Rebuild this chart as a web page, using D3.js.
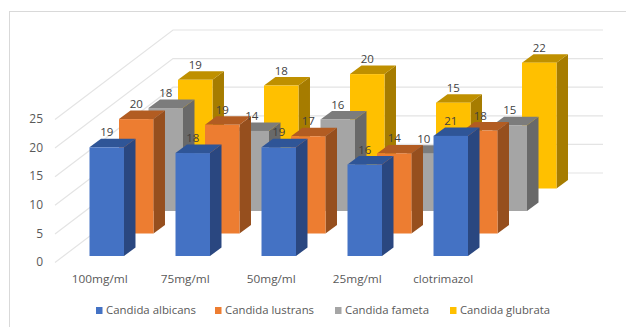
<!DOCTYPE html>
<html><head><meta charset="utf-8">
<style>html,body{margin:0;padding:0;background:#fff;overflow:hidden}svg{display:block}
text{font-family:"Open Sans",sans-serif;fill:#595959}
text.val{fill:#3f3f3f}</style>
<script src="https://cdn.jsdelivr.net/npm/d3@7"></script></head>
<body><svg id="c" width="626" height="327"></svg>
<script>
const categories=["100mg/ml","75mg/ml","50mg/ml","25mg/ml","clotrimazol"];
const seriesNames=["Candida albicans","Candida lustrans","Candida fameta","Candida glubrata"];
const albicans=[19,18,19,16,21];
const lustrans=[20,19,17,14,18];
const fameta=[18,14,16,10,15];
const glubrata=[19,18,20,15,22];
const seriesValues=[albicans,lustrans,fameta,glubrata];
const yTicks=[0,5,10,15,20,25];
const frontColors=["#4472C4","#ED7D31","#A5A5A5","#FFC000"];
const topColors=["#2F5597","#B25C22","#7C7C7C","#BF9000"];
const sideColors=["#2A4780","#964F1E","#696969","#A67C00"];
const legendSwatchX=[96,215,335,450];
const legendWidths=[90,89,84,90];
const categoryWidths=[56,49,49,49,60];
const categoryOffsets=[-7,-7.5,-7.5,-7.5,-7.5];

const svg=d3.select("#c");
const x=d3.scaleBand().domain(categories).range([89.5,468]).paddingInner(0.599).paddingOuter(0);
const y=d3.scaleLinear().domain([0,25]).range([256,113]);
const depthX=d3.scalePoint().domain(seriesNames).range([0,88.5]);
const depthY=d3.scalePoint().domain(seriesNames).range([0,-67.5]);
const sideDx=11.5,sideDy=-8.5;

svg.append("rect").attr("x",9.5).attr("y",11.5).attr("width",640).attr("height",340)
  .attr("fill","#fff").attr("stroke","#d9d9d9").attr("stroke-width",1);

const gridY=d3.scaleLinear().domain([0,25]).range([262.5,119.5]);
const wallDx=118,wallDy=-89.5,wallEnd=603;
const grid=svg.append("g").attr("fill","none").attr("stroke","#e4e4e4").attr("stroke-width",1.2);
yTicks.forEach(t=>{
  const y0=gridY(t);
  grid.append("path").attr("d",`M55,${y0}L${55+wallDx},${y0+wallDy}L${wallEnd},${y0+wallDy}`);
});
svg.append("g").selectAll("text").data(yTicks).join("text")
  .attr("x",43).attr("y",d=>gridY(d)-0.5).attr("dy","0.35em").attr("text-anchor","end")
  .attr("font-size",12).text(d=>d);

const bars=svg.append("g");
const labels=[];
for(let s=seriesNames.length-1;s>=0;s--){
  const name=seriesNames[s];
  const ox=depthX(name),oy=depthY(name);
  categories.forEach((c,i)=>{
    const v=seriesValues[s][i];
    const x0=x(c)+ox,x1=x0+x.bandwidth(),yb=y(0)+oy,yt=y(v)+oy;
    const g=bars.append("g");
    g.append("path").attr("fill",sideColors[s])
      .attr("d",`M${x1},${yt}L${x1+sideDx},${yt+sideDy}L${x1+sideDx},${yb+sideDy}L${x1},${yb}Z`);
    g.append("path").attr("fill",topColors[s])
      .attr("d",`M${x0},${yt}L${x0+sideDx},${yt+sideDy}L${x1+sideDx},${yt+sideDy}L${x1},${yt}Z`);
    g.append("rect").attr("x",x0).attr("y",yt).attr("width",x.bandwidth()).attr("height",yb-yt).attr("fill",frontColors[s]);
    labels.push({v,cx:(x0+x1)/2,cy:yt-15});
  });
}
svg.append("g").selectAll("text").data(labels).join("text").attr("class","val")
  .attr("x",d=>d.cx).attr("y",d=>d.cy).attr("dy","0.35em").attr("text-anchor","middle")
  .attr("font-size",11.5).text(d=>d.v);

svg.append("g").selectAll("text").data(categories).join("text")
  .attr("x",(d,i)=>x(d)+x.bandwidth()/2+categoryOffsets[i]).attr("y",279).attr("dy","0.35em")
  .attr("text-anchor","middle").attr("font-size",11.5)
  .attr("textLength",(d,i)=>categoryWidths[i]).attr("lengthAdjust","spacingAndGlyphs").text(d=>d);

const leg=svg.append("g").selectAll("g").data(seriesNames).join("g")
  .attr("transform",(d,i)=>`translate(${legendSwatchX[i]},0)`);
leg.append("rect").attr("x",0).attr("y",307).attr("width",6.5).attr("height",7).attr("fill",(d,i)=>frontColors[i]);
leg.append("text").attr("x",10).attr("y",310.5).attr("dy","0.35em").attr("font-size",10.5)
  .attr("textLength",(d,i)=>legendWidths[i]).attr("lengthAdjust","spacingAndGlyphs").text(d=>d);
</script></body></html>
